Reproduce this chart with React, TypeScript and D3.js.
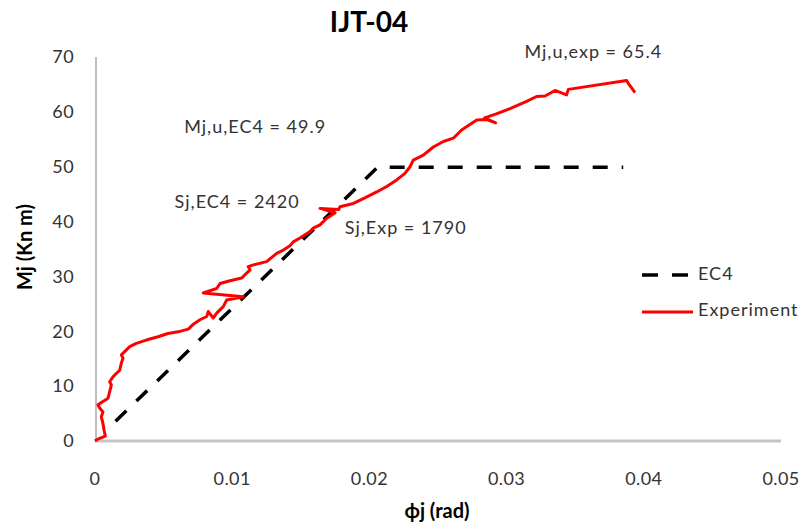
import React from "react";
import * as d3 from "d3";

const W = 803;
const H = 524;

const xTicks = [0, 0.01, 0.02, 0.03, 0.04, 0.05];
const xTickLabels = ["0", "0.01", "0.02", "0.03", "0.04", "0.05"];
const yTicks = [0, 10, 20, 30, 40, 50, 60, 70];

const ec4X = [0.0015, 0.0206, 0.0385];
const ec4Y = [3.6, 49.9, 49.9];

const expX = [
  0, 0.00017, 0.00075, 0.00066, 0.00058, 0.00046, 0.00058, 0.00034, 0.00022, 0.00058,
  0.00095, 0.00107, 0.00119, 0.00107, 0.00131, 0.00155, 0.0018, 0.00192, 0.00204, 0.00192,
  0.00216, 0.00253, 0.00301, 0.00374, 0.00459, 0.00532, 0.00605, 0.0068, 0.00717, 0.00765,
  0.00814, 0.00826, 0.00862, 0.00887, 0.00935, 0.0096, 0.01081, 0.00789, 0.00887, 0.00911,
  0.00984, 0.01069, 0.01093, 0.0113, 0.01117, 0.01154, 0.01251, 0.01324, 0.01373, 0.01421,
  0.01445, 0.01494, 0.01567, 0.01591, 0.0164, 0.01664, 0.01689, 0.0175, 0.0164, 0.01776,
  0.01786, 0.01883, 0.01956, 0.02053, 0.02126, 0.02199, 0.02259, 0.02296, 0.0232, 0.02393,
  0.02466, 0.02539, 0.02612, 0.02672, 0.02782, 0.02855, 0.0292, 0.0284, 0.0292, 0.03025,
  0.03146, 0.03219, 0.0328, 0.03353, 0.03437, 0.0345, 0.03875, 0.03887, 0.03936,
];
const expY = [
  0, 0.3, 0.9, 2.0, 3.2, 4.4, 5.3, 6.0, 6.6, 7.2,
  7.8, 9.0, 10.2, 10.8, 11.7, 12.3, 12.9, 14.2, 15.1, 15.7,
  16.3, 17.2, 17.8, 18.4, 19.0, 19.6, 19.9, 20.4, 21.3, 22.1,
  22.7, 23.6, 22.4, 23.3, 24.5, 25.7, 26.3, 27.0, 27.8, 28.7,
  29.2, 29.7, 30.3, 31.2, 31.8, 32.1, 32.7, 34.2, 34.8, 35.6,
  36.3, 37.0, 38.2, 38.8, 39.4, 40.0, 40.6, 41.6, 42.4, 42.2,
  42.7, 43.3, 44.2, 45.4, 46.4, 47.6, 48.8, 50.0, 51.2, 52.1,
  53.6, 54.6, 55.2, 56.7, 58.5, 58.6, 58.0, 58.9, 59.6, 60.6,
  61.9, 62.8, 62.9, 63.9, 63.1, 64.1, 65.7, 65.2, 63.5,
];

const annotations = [
  { text: "Mj,u,exp = 65.4", x: 0.0313, y: 70.9 },
  { text: "Mj,u,EC4 = 49.9", x: 0.0065, y: 57.3 },
  { text: "Sj,EC4 = 2420", x: 0.0058, y: 43.6 },
  { text: "Sj,Exp = 1790", x: 0.0182, y: 38.8 },
];

const FONT = "Lato, 'Open Sans', sans-serif";
const TXT = "#333";

export default function App() {
  const x = d3.scaleLinear().domain([0, 0.05]).range([95, 781]);
  const y = d3.scaleLinear().domain([0, 70]).range([441, 57]);

  const line = d3
    .line<[number, number]>()
    .x((d) => x(d[0]))
    .y((d) => y(d[1]));

  const ec4 = ec4X.map((v, i) => [v, ec4Y[i]] as [number, number]);
  const exp = expX.map((v, i) => [v, expY[i]] as [number, number]);

  return (
    <svg width={W} height={H} style={{ display: "block", position: "absolute", left: 0, top: 0 }}>
      <rect x={0} y={0} width={W} height={H} fill="#fff" />
      <text x={369} y={32} textAnchor="middle" fontFamily={FONT} fontWeight="bold" fontSize={28} fill="#000">
        IJT-04
      </text>
      {/* axes */}
      <line x1={x(0) + 1} x2={x(0) + 1} y1={y(70)} y2={y(0)} stroke="#bfbfbf" strokeWidth={2} />
      <line x1={x(0)} x2={x(0.05)} y1={y(0)} y2={y(0)} stroke="#c4c4c4" strokeWidth={3} />
      {yTicks.map((t) => (
        <text key={t} x={74} y={y(t)} dy="0.35em" textAnchor="end" fontFamily={FONT} fontSize={18} letterSpacing={0.4} fill={TXT}>
          {t}
        </text>
      ))}
      {xTicks.map((t, i) => (
        <text key={t} x={x(t)} y={479} dy="0.35em" textAnchor="middle" fontFamily={FONT} fontSize={18} letterSpacing={0.4} fill={TXT}>
          {xTickLabels[i]}
        </text>
      ))}
      <text
        transform={`translate(25,247) rotate(-90)`}
        textAnchor="middle"
        dy="0.35em"
        fontFamily={FONT}
        fontWeight="bold"
        fontSize={20}
        fill="#000"
      >
        Mj (Kn m)
      </text>
      <text x={437} y={511} dy="0.35em" textAnchor="middle" fontFamily={FONT} fontWeight="bold" fontSize={20} fill="#000">
        ϕj (rad)
      </text>
      {/* series */}
      <path d={line(ec4) || ""} fill="none" stroke="#000" strokeWidth={3.5} strokeDasharray="15 14" />
      <path d={line(exp) || ""} fill="none" stroke="#ff0000" strokeWidth={3} strokeLinejoin="round" />
      {/* annotations */}
      {annotations.map((a) => (
        <text key={a.text} x={x(a.x)} y={y(a.y)} dy="0.35em" fontFamily={FONT} fontSize={18} letterSpacing={1} fill={TXT}>
          {a.text}
        </text>
      ))}
      {/* legend */}
      <line x1={642} x2={690} y1={275} y2={275} stroke="#000" strokeWidth={3.5} strokeDasharray="16 14" />
      <text x={698} y={274} dy="0.35em" fontFamily={FONT} fontSize={18} letterSpacing={1} fill={TXT}>
        EC4
      </text>
      <line x1={642} x2={693} y1={312} y2={312} stroke="#ff0000" strokeWidth={3} />
      <text x={698} y={310} dy="0.35em" fontFamily={FONT} fontSize={18} letterSpacing={1} fill={TXT}>
        Experiment
      </text>
    </svg>
  );
}
